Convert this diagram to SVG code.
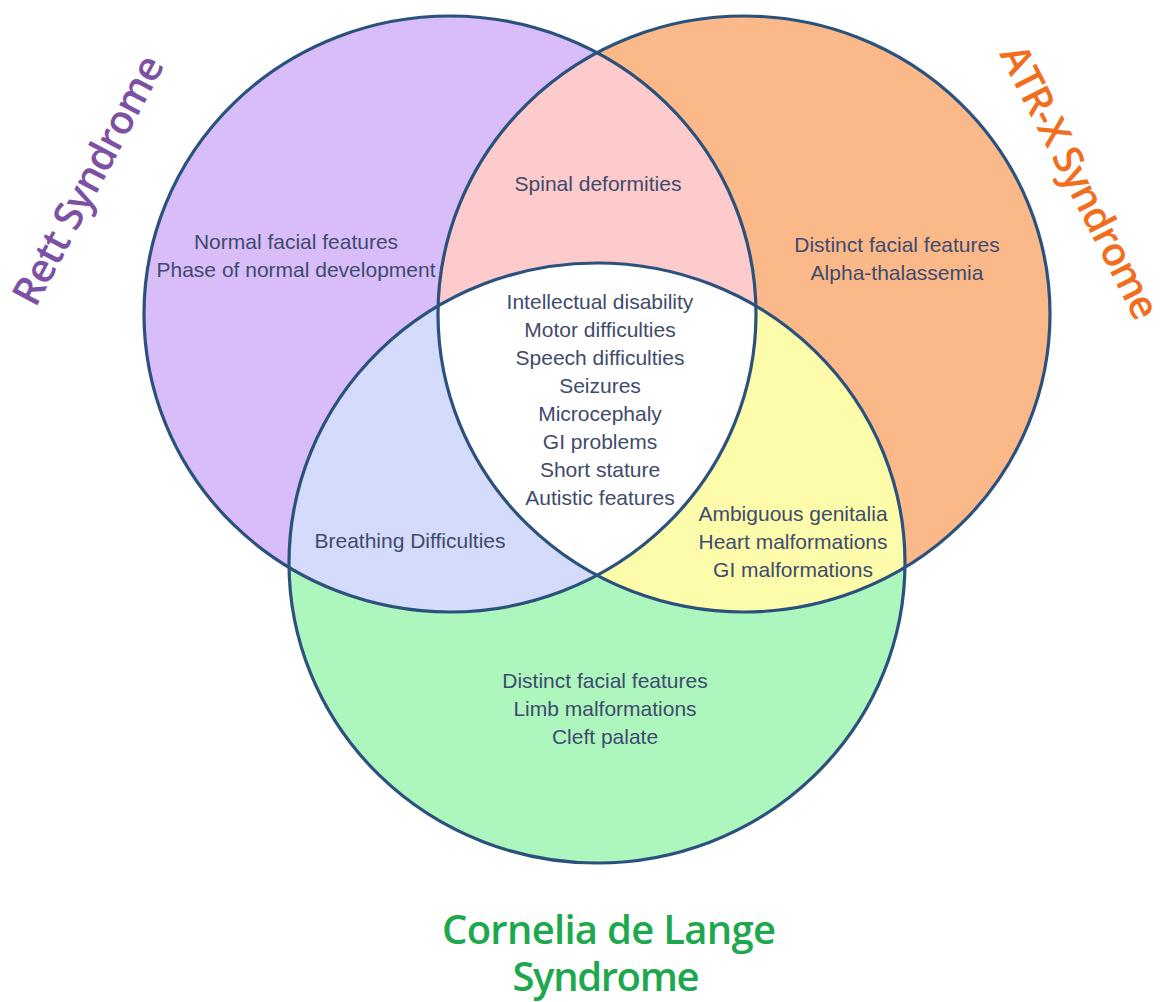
<svg xmlns="http://www.w3.org/2000/svg" width="1171" height="1002" viewBox="0 0 1171 1002">
  <style>
    .outline { fill: none; stroke: #2b517d; stroke-width: 3.2; }
    .item { font-family: "Liberation Sans", Arial, sans-serif; font-size: 21px; fill: #3f4b6c; text-anchor: middle; }
    .title { font-family: "Open Sans", "Noto Sans", sans-serif; font-weight: 600; font-size: 40px; text-anchor: middle; }
  </style>
  <defs>
    <ellipse id="eRett" cx="450" cy="314" rx="306" ry="298"/>
    <ellipse id="eAtrx" cx="744" cy="314" rx="306" ry="298"/>
    <ellipse id="eCdls" cx="597" cy="563" rx="308" ry="300"/>
    <clipPath id="clipRett"><use href="#eRett"/></clipPath>
    <clipPath id="clipAtrx"><use href="#eAtrx"/></clipPath>
  </defs>
  <rect width="1171" height="1002" fill="#ffffff"/>

  <g id="regions">
    <use href="#eRett" fill="#d8bdf9"/>
    <use href="#eAtrx" fill="#fbb98a"/>
    <use href="#eCdls" fill="#adf6bd"/>
    <use href="#eAtrx" fill="#fdcbcb" clip-path="url(#clipRett)"/>
    <use href="#eCdls" fill="#d5dbfb" clip-path="url(#clipRett)"/>
    <use href="#eCdls" fill="#fdfcab" clip-path="url(#clipAtrx)"/>
    <g clip-path="url(#clipRett)">
      <use href="#eCdls" fill="#ffffff" clip-path="url(#clipAtrx)"/>
    </g>
  </g>

  <g id="outlines">
    <use href="#eRett" class="outline"/>
    <use href="#eAtrx" class="outline"/>
    <use href="#eCdls" class="outline"/>
  </g>

  <g id="rett">
    <text class="title" fill="#7c51a4" transform="translate(88,180) rotate(-62)" dy="14" textLength="276">Rett Syndrome</text>
    <text class="item" x="296" y="249">Normal facial features</text>
    <text class="item" x="296" y="277">Phase of normal development</text>
  </g>

  <g id="atrx">
    <text class="title" fill="#f26d1c" transform="translate(1080,182) rotate(63)" dy="14" textLength="302">ATR-X Syndrome</text>
    <text class="item" x="897" y="252">Distinct facial features</text>
    <text class="item" x="897" y="280">Alpha-thalassemia</text>
  </g>

  <g id="cdls">
    <text class="title" fill="#1ea84e"><tspan x="609" y="944" textLength="334">Cornelia de Lange</tspan><tspan x="606" y="991" textLength="187">Syndrome</tspan></text>
    <text class="item" x="605" y="688">Distinct facial features</text>
    <text class="item" x="605" y="716">Limb malformations</text>
    <text class="item" x="605" y="744">Cleft palate</text>
  </g>

  <g id="rett-atrx">
    <text class="item" x="598" y="191">Spinal deformities</text>
  </g>

  <g id="rett-cdls">
    <text class="item" x="410" y="548">Breathing Difficulties</text>
  </g>

  <g id="atrx-cdls">
    <text class="item" x="793" y="521">Ambiguous genitalia</text>
    <text class="item" x="793" y="549">Heart malformations</text>
    <text class="item" x="793" y="577">GI malformations</text>
  </g>

  <g id="all-three">
    <text class="item" x="600" y="309">Intellectual disability</text>
    <text class="item" x="600" y="337">Motor difficulties</text>
    <text class="item" x="600" y="365">Speech difficulties</text>
    <text class="item" x="600" y="393">Seizures</text>
    <text class="item" x="600" y="421">Microcephaly</text>
    <text class="item" x="600" y="449">GI problems</text>
    <text class="item" x="600" y="477">Short stature</text>
    <text class="item" x="600" y="505">Autistic features</text>
  </g>

  <g id="connectors"/>
</svg>
